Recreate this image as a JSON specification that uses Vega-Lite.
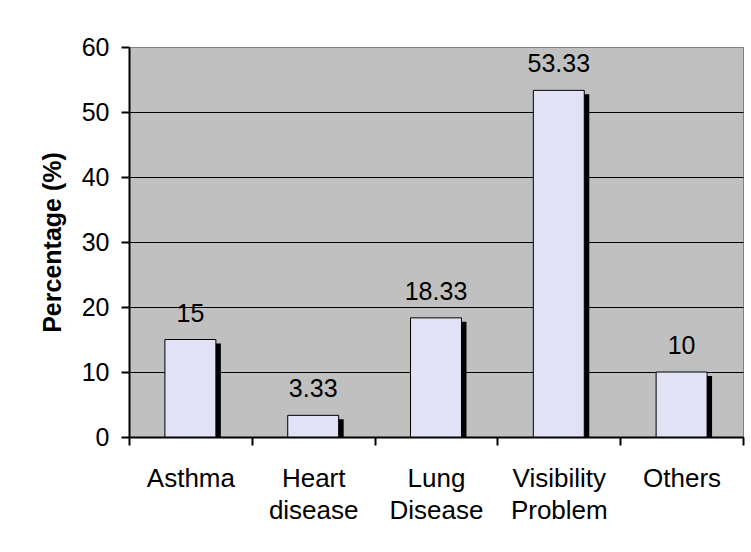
{
  "$schema": "https://vega.github.io/schema/vega-lite/v6.json",
  "width": 614,
  "height": 390,
  "autosize": {"type": "none"},
  "padding": {"left": 129, "top": 47, "right": 8, "bottom": 115},
  "background": "white",
  "config": {
    "view": {"fill": "#c0c0c0", "stroke": "#808080", "strokeWidth": 1},
    "font": "Liberation Sans"
  },
  "data": {
    "values": [
      {"category": "Asthma", "percentage": 15},
      {"category": "Heart disease", "percentage": 3.33},
      {"category": "Lung Disease", "percentage": 18.33},
      {"category": "Visibility Problem", "percentage": 53.33},
      {"category": "Others", "percentage": 10}
    ]
  },
  "encoding": {
    "x": {
      "field": "category",
      "type": "nominal",
      "sort": null,
      "scale": {"paddingInner": 0, "paddingOuter": 0},
      "axis": {
        "title": null,
        "labelAngle": 0,
        "labelExpr": "split(datum.label, ' ')",
        "labelFontSize": 26,
        "labelColor": "black",
        "labelPadding": 20,
        "labelLineHeight": 32,
        "tickBand": "extent",
        "tickSize": 8,
        "tickColor": "black",
        "tickWidth": 2,
        "domainColor": "black",
        "domainWidth": 2,
        "grid": false
      }
    },
    "y": {
      "field": "percentage",
      "type": "quantitative",
      "scale": {"domain": [0, 60], "nice": false},
      "axis": {
        "title": "Percentage (%)",
        "titleFontSize": 25,
        "titleFontWeight": "bold",
        "titleColor": "black",
        "titlePadding": 16,
        "values": [0, 10, 20, 30, 40, 50, 60],
        "labelFontSize": 25,
        "labelColor": "black",
        "labelPadding": 12,
        "tickSize": 8,
        "tickColor": "black",
        "tickWidth": 2,
        "domainColor": "black",
        "domainWidth": 2,
        "grid": true,
        "gridWidth": 1,
        "gridOpacity": 1,
        "gridColor": {"condition": {"test": "datum.value == 60", "value": "#808080"}, "value": "black"}
      }
    }
  },
  "layer": [
    {
      "mark": {"type": "bar", "color": "black", "xOffset": 5, "yOffset": 4, "clip": true, "width": {"band": 0.415}}
    },
    {
      "mark": {"type": "bar", "fill": "#e2e2f6", "stroke": "black", "strokeWidth": 1, "width": {"band": 0.415}}
    },
    {
      "mark": {"type": "text", "baseline": "alphabetic", "dy": -18, "fontSize": 25, "color": "black"},
      "encoding": {"text": {"field": "percentage", "type": "nominal"}}
    }
  ]
}
